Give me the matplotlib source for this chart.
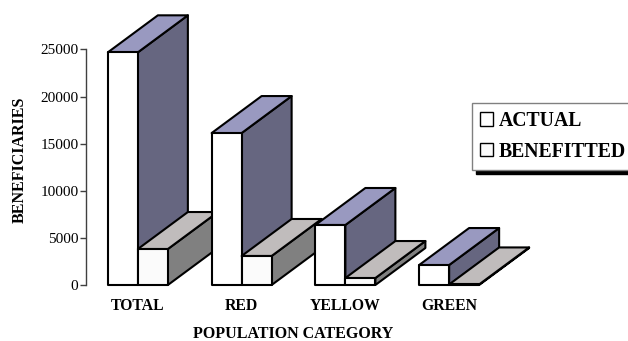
import matplotlib
matplotlib.use("Agg")
import matplotlib.pyplot as plt
from matplotlib.patches import Patch

plt.rcParams['font.family'] = ['Liberation Serif', 'DejaVu Serif']

categories = ["TOTAL", "RED", "YELLOW", "GREEN"]
actual = [24700, 16130, 6370, 2120]
benefitted = [3820, 3080, 740, 60]
y_ticks = [0, 5000, 10000, 15000, 20000, 25000]

W, H = 628, 341
fig = plt.figure(figsize=(W / 100, H / 100), dpi=100, facecolor="white")
ax = fig.add_axes([86 / W, (H - 285) / H, 415 / W, 235.5 / H])
ax.set_xlim(-0.5, 3.5)
ax.set_ylim(0, 25000)

# bar width and the fake 3d depth, in data units
bar_w = 30 / 103.75
dx = 50 / 103.75
dy = 37 / 235.5 * 25000


def bar3d(x0, h, front, top, side):
    x1 = x0 + bar_w
    kw = dict(edgecolor="black", linewidth=1.5, joinstyle="round", clip_on=False)
    ax.fill([x1, x1 + dx, x1 + dx, x1], [0, dy, h + dy, h], facecolor=side, **kw)
    ax.fill([x0, x1, x1 + dx, x0 + dx], [h, h, h + dy, h + dy], facecolor=top, **kw)
    ax.fill([x0, x1, x1, x0], [0, 0, h, h], facecolor=front, **kw)


# left to right so each group hides the end of the one before it
for i in range(len(categories)):
    bar3d(i - bar_w, actual[i], "white", "#9999c0", "#666680")
    bar3d(i, benefitted[i], "#fbfbfb", "#c0bcbc", "#808080")

ax.patch.set_visible(False)
for s in ["top", "right", "bottom"]:
    ax.spines[s].set_visible(False)
ax.spines["left"].set_color("#404040")
ax.spines["left"].set_linewidth(1)

ax.set_yticks(y_ticks)
ax.tick_params(axis="y", length=4, width=1, color="#404040", labelsize=11, pad=1.5)
ax.set_xticks(range(len(categories)))
ax.set_xticklabels(categories, fontweight="bold", fontsize=11.3)
ax.tick_params(axis="x", length=0, pad=9)

ax.set_ylabel("BENEFICIARIES", fontweight="bold", fontsize=11.5, va="center")
ax.yaxis.set_label_coords((20 - 86) / 415, 0.53)
ax.set_xlabel("POPULATION CATEGORY", fontweight="bold", fontsize=11.5, va="center")
ax.xaxis.set_label_coords(0.5, -(334 - 285) / 235.5)

handles = [
    Patch(facecolor="white", edgecolor="black", linewidth=1),
    Patch(facecolor="#fbfbfb", edgecolor="black", linewidth=1),
]
leg = ax.legend(
    handles, ["ACTUAL", "BENEFITTED"],
    loc="upper left", bbox_to_anchor=(472 / W, (H - 103) / H), bbox_transform=fig.transFigure,
    fancybox=False, framealpha=1, edgecolor="#808080",
    shadow={"color": "black", "alpha": 1, "ox": 3, "oy": -3},
    prop={"weight": "bold", "size": 14.2},
    handlelength=0.66, handleheight=0.66, handletextpad=0.3,
    labelspacing=0.55, borderpad=0.4, borderaxespad=0,
)
leg.set_clip_on(False)

fig.savefig("out.png", dpi=100)
